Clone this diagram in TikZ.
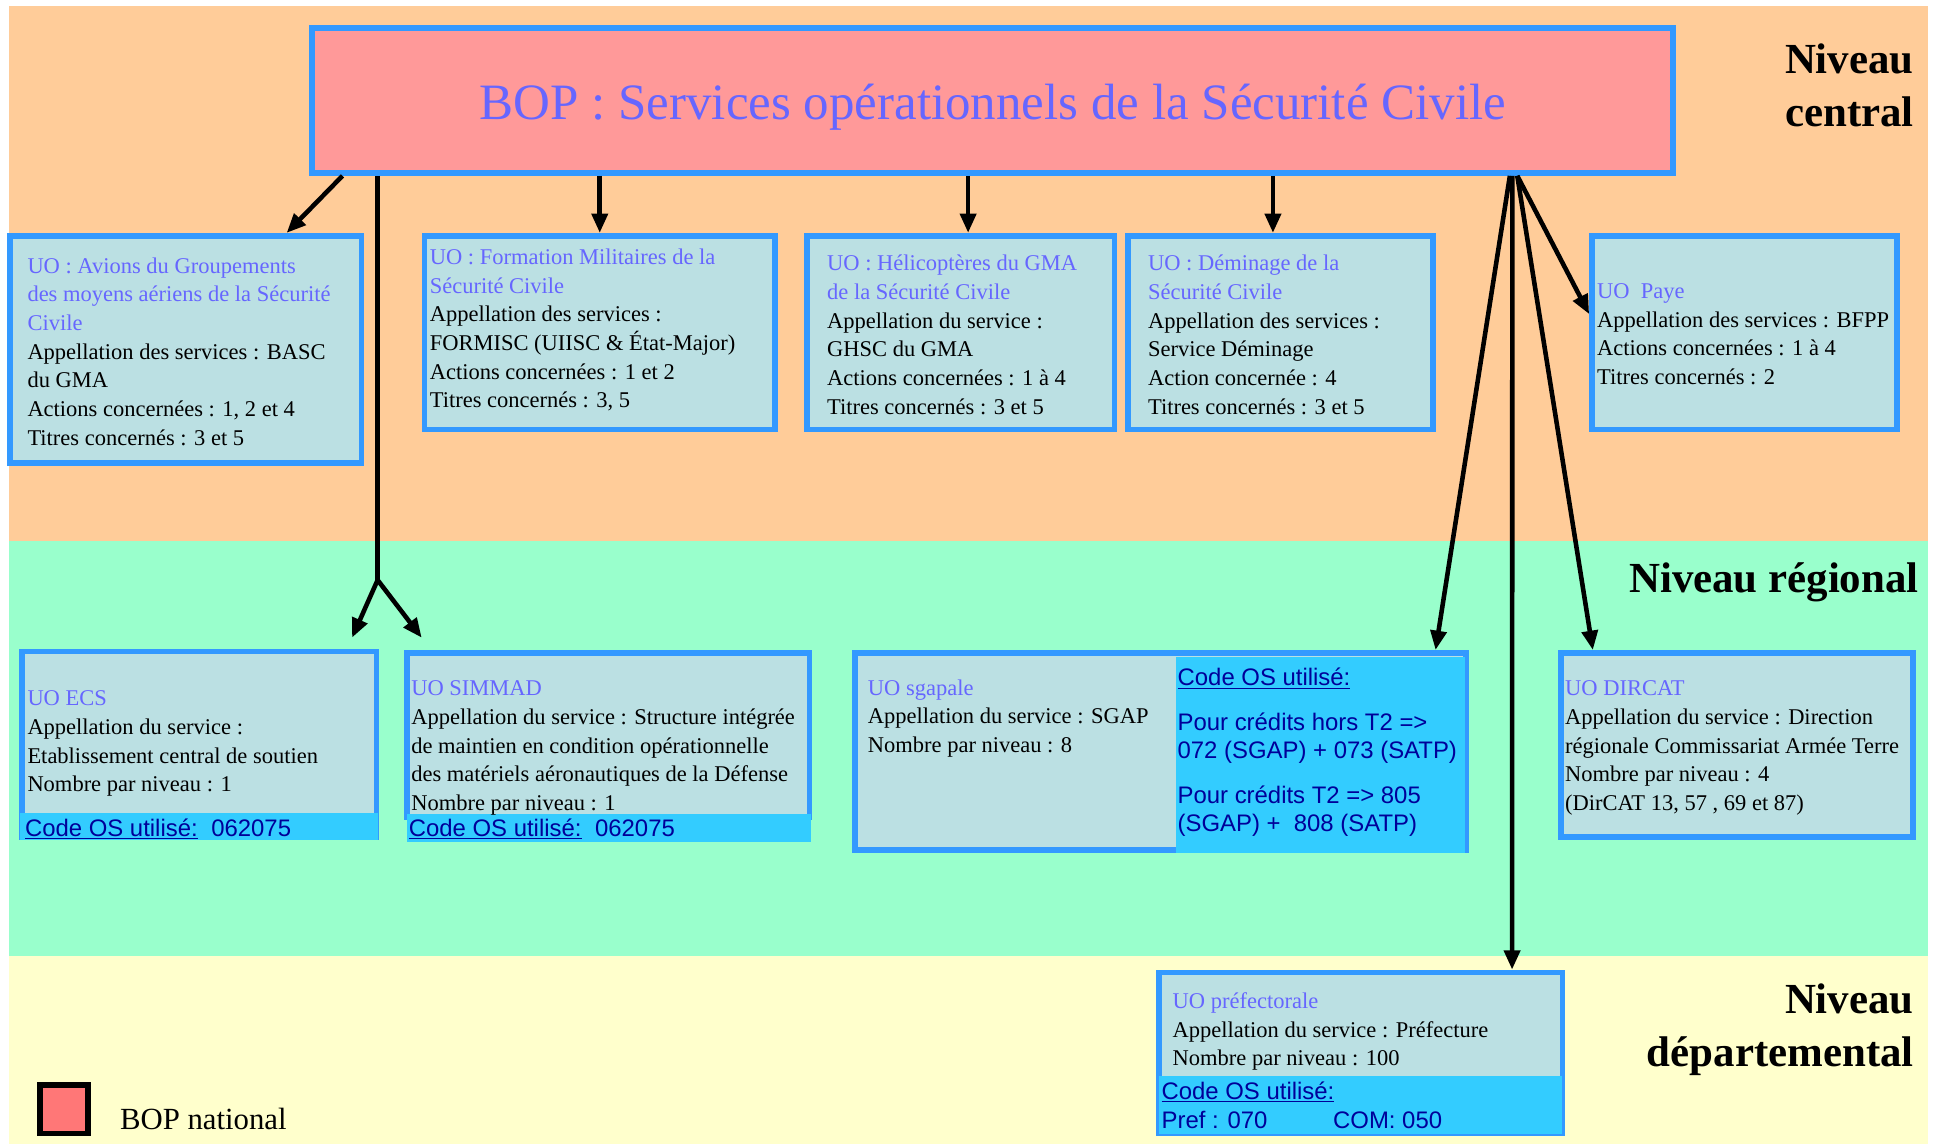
\documentclass[tikz,border=0pt]{standalone}
\usepackage{fontspec}
\setmainfont{Liberation Serif}
\setsansfont{Liberation Sans}
\usetikzlibrary{arrows.meta, positioning, fit, calc}

\definecolor{fondcentral}{RGB}{255,204,153}
\definecolor{fondregional}{RGB}{153,255,204}
\definecolor{fonddepart}{RGB}{255,255,204}
\definecolor{bopfill}{RGB}{255,153,153}
\definecolor{bordbleu}{RGB}{51,153,255}
\definecolor{uofill}{RGB}{187,224,227}
\definecolor{uotitre}{RGB}{102,102,255}
\definecolor{codefill}{RGB}{51,204,255}
\definecolor{codetexte}{RGB}{0,0,153}
\definecolor{legendefill}{RGB}{255,119,119}

\newcommand{\uot}[1]{\textcolor{uotitre}{#1}}
\newcommand{\codeos}{\underline{Code OS utilisé:}}

\begin{document}
\begin{tikzpicture}[x=0.02468cm, y=-0.02468cm,
  uobox/.style={draw=bordbleu, line width=3.2pt, fill=uofill, inner sep=0pt},
  uotext/.style={anchor=north west, align=left, inner sep=0pt, font=\fontsize{12.8}{16.3}\selectfont},
  codestrip/.style={fill=codefill, inner sep=0pt},
  codetxt/.style={anchor=north west, align=left, inner sep=0pt, text=codetexte, font=\sffamily\fontsize{13.6}{16.15}\selectfont},
  niveau/.style={anchor=north east, align=right, inner sep=0pt, font=\bfseries\fontsize{24.4}{30.2}\selectfont},
  fleche/.style={line width=2.6pt, -{Triangle[length=11pt, width=9pt]}}
]
  \useasboundingbox (0,0) rectangle (1568,927);
  % --- Bandes des niveaux ---
  \fill[white] (0,0) rectangle (1568,927);
  \fill[fondcentral] (7,5) rectangle (1562,438);
  \fill[fondregional] (7,438) rectangle (1562,775);
  \fill[fonddepart] (7,775) rectangle (1562,927);
  \node[niveau] (niv-central) at (1551,35) {Niveau\\central};
  \node[niveau] (niv-regional) at (1555,456) {Niveau régional};
  \node[niveau] (niv-depart) at (1551,797) {Niveau\\départemental};

  % --- BOP ---
  \node[uobox, fill=bopfill, line width=3.5pt, fit={(253,23) (1356,140)}] (bop) {};
  \node[text=uotitre, font=\fontsize{29}{34}\selectfont] (bop-titre) at ($(bop.center)+(0,5)$) {BOP : Services opérationnels de la Sécurité Civile};

  % --- UO niveau central ---
  \node[uobox, fit={(8,191) (293,375)}] (avions) {};
  \node[uotext] (avions-txt) at (22,208.5) {\uot{UO : Avions du Groupements}\\\uot{des moyens aériens de la Sécurité}\\\uot{Civile}\\Appellation des services : BASC\\du GMA\\Actions concernées : 1, 2 et 4\\Titres concernés : 3 et 5};
  \node[uobox, fit={(344,191) (628,348)}] (formation) {};
  \node[uotext] (formation-txt) at (348,201.5) {\uot{UO : Formation Militaires de la}\\\uot{Sécurité Civile}\\Appellation des services :\\FORMISC (UIISC \& État-Major)\\Actions concernées : 1 et 2\\Titres concernés : 3, 5};
  \node[uobox, fit={(654,191) (903,348)}] (helico) {};
  \node[uotext] (helico-txt) at (670,206.5) {\uot{UO : Hélicoptères du GMA}\\\uot{de la Sécurité Civile}\\Appellation du service :\\GHSC du GMA\\Actions concernées : 1 à 4\\Titres concernés : 3 et 5};
  \node[uobox, fit={(914,191) (1161,348)}] (deminage) {};
  \node[uotext] (deminage-txt) at (930,206.5) {\uot{UO : Déminage de la}\\\uot{Sécurité Civile}\\Appellation des services :\\Service Déminage\\Action concernée : 4\\Titres concernés : 3 et 5};
  \node[uobox, fit={(1290,191) (1537,348)}] (paye) {};
  \node[uotext] (paye-txt) at (1294,229.5) {\uot{UO\ \ Paye}\\Appellation des services : BFPP\\Actions concernées : 1 à 4\\Titres concernés : 2};

  % --- UO niveau regional ---
  \node[uobox, fit={(18,528) (305,678)}] (ecs) {};
  \node[codestrip, fit={(16,659) (306,681)}] (ecs-code) {};
  \node[uotext] (ecs-txt) at (22,559.5) {\uot{UO ECS}\\Appellation du service :\\Etablissement central de soutien\\Nombre par niveau : 1};
  \node[codetxt] (ecs-codetxt) at (20,663) {\codeos\hspace{7.7pt}062075};
  \node[uobox, fit={(330,529) (656,662)}] (simmad) {};
  \node[codestrip, fit={(330,660) (657,682)}] (simmad-code) {};
  \node[uotext] (simmad-txt) at (333,551.5) {\uot{UO SIMMAD}\\Appellation du service : Structure intégrée\\de maintien en condition opérationnelle\\des matériels aéronautiques de la Défense\\Nombre par niveau : 1};
  \node[codetxt] (simmad-codetxt) at (331,663) {\codeos\hspace{7.7pt}062075};
  \node[uobox, fit={(693,529) (1188,689)}] (sgapale) {};
  \node[codestrip, fit={(953,532) (1187,691)}] (sgapale-code) {};
  \node[uotext] (sgapale-txt) at (703,550.5) {\uot{UO sgapale}\\Appellation du service : SGAP\\Nombre par niveau : 8};
  \node[codetxt] (sgapale-codetxt) at (954,541) {\codeos\\[9.3pt]Pour crédits hors T2 =>\\072 (SGAP) + 073 (SATP)\\[9.3pt]Pour crédits T2 => 805\\(SGAP) +\ \ 808 (SATP)};
  \node[uobox, fit={(1265,529) (1550,678)}] (dircat) {};
  \node[uotext] (dircat-txt) at (1268,551.5) {\uot{UO DIRCAT}\\Appellation du service : Direction\\régionale Commissariat Armée Terre\\Nombre par niveau : 4\\(DirCAT 13, 57 , 69 et 87)};

  % --- UO niveau departemental ---
  \node[uobox, fit={(939,788) (1266,918)}] (pref) {};
  \node[codestrip, fit={(939,872) (1266,919)}] (pref-code) {};
  \node[uotext] (pref-txt) at (950,804) {\uot{UO préfectorale}\\Appellation du service : Préfecture\\Nombre par niveau : 100};
  \node[codetxt, font=\sffamily\fontsize{13.6}{16.85}\selectfont] (pref-codetxt) at (941,876) {\codeos\\\makebox[97.6pt][l]{Pref : 070}COM: 050};

  % --- Legende ---
  \node[draw=black, fill=legendefill, line width=3.4pt, inner sep=0pt, fit={(32.5,879.5) (71.5,918.5)}] (legende) {};
  \node[anchor=west, inner sep=0pt, font=\fontsize{17.5}{20}\selectfont] (legende-txt) at (97,907) {BOP national};

  % --- Fleches ---
  \coordinate (fourche) at (306,470);
  \draw[fleche] ($(bop.south west)+(27,0)$) -- ($(avions.north east)+(-63,0)$);
  \draw[line width=2.6pt] (bop.south -| fourche) -- (fourche);
  \draw[fleche] (fourche) -- ($(ecs.north east)+(-22,-9)$);
  \draw[fleche] (fourche) -- ($(simmad.north west)+(14,-10)$);
  \draw[fleche] (bop.south -| formation.north) -- (formation.north);
  \draw[fleche] ($(bop.south -| helico.north)+(6,0)$) -- ($(helico.north)+(6,0)$);
  \draw[fleche] ($(bop.south -| deminage.north)+(-6,0)$) -- ($(deminage.north)+(-6,0)$);
  \draw[fleche] ($(bop.south east)+(-135,0)$) -- ($(sgapale.north east)+(-27,0)$);
  \draw[fleche] ($(bop.south east)+(-133,0)$) -- ($(pref.north east)+(-43,0)$);
  \draw[fleche] ($(bop.south east)+(-129,0)$) -- ($(paye.west)+(0,-15)$);
  \draw[fleche] ($(bop.south east)+(-129,0)$) -- ($(dircat.north west)+(28,0)$);
\end{tikzpicture}
\end{document}
